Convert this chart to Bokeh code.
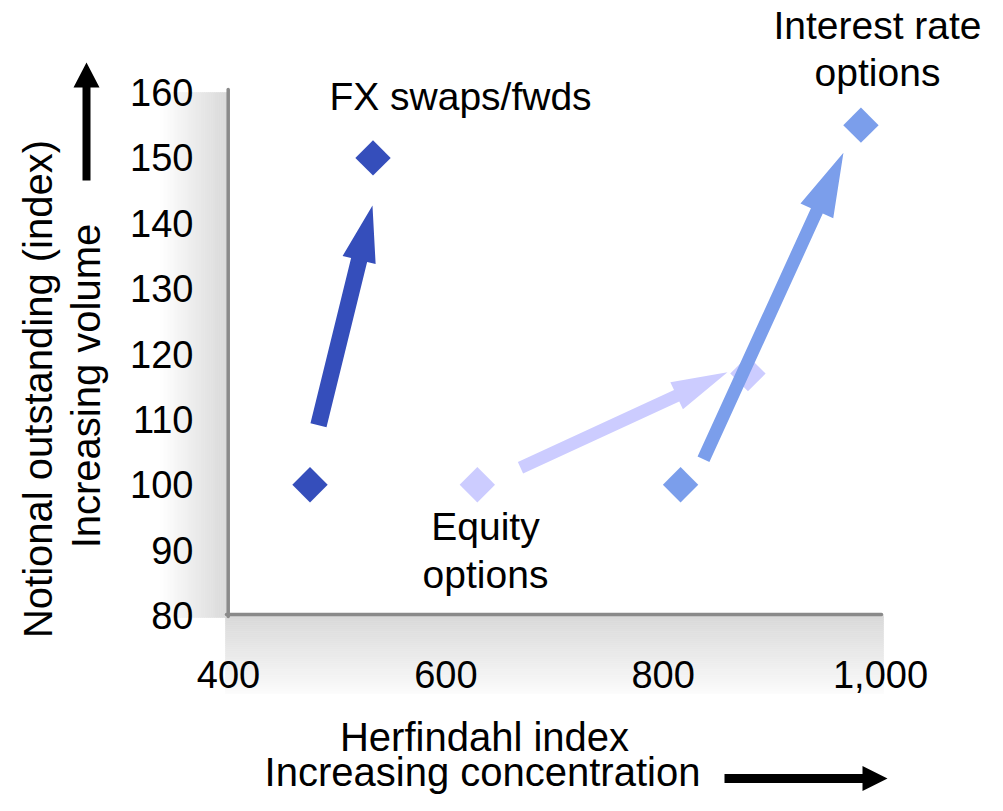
import numpy as np
from bokeh.plotting import figure
from bokeh.models import FixedTicker, NumeralTickFormatter, Range1d
from bokeh.core.properties import value
from bokeh.embed import file_html
from bokeh.resources import INLINE

# ---------------- data ----------------
series = ["FX swaps/fwds", "Equity options", "Interest rate options"]
herf_start = [475, 629, 816]
herf_end = [533, 878, 982]
vol_start = [100, 100, 100]
vol_end = [150, 117, 155]
# arrow tails / tips (data units)
arrow_x0 = [482.8, 668.7, 837.1]
arrow_y0 = [109.1, 102.6, 103.9]
arrow_x1 = [532.5, 859.2, 965.9]
arrow_y1 = [142.7, 117.2, 150.8]
x_ticks = [400, 600, 800, 1000]
y_ticks = [80, 90, 100, 110, 120, 130, 140, 150, 160]

# ---------------- styles ----------------
colors = ["#354EBB", "#CCCCFF", "#7B9EEB"]
shaft_w = [16.5, 12.5, 13]
head_len = [56, 56, 64]
head_wid = [34, 30, 36]
FONT = "Liberation Sans"

# ---------------- layout mapping (canvas px <-> data) ----------------
W, H = 987, 795
SX = 652 / 600.0
SY = 523 / 80.0

def X(px):
    return 400 + (px - 228) / SX

def Y(py):
    return 80 + (615 - py) / SY

def PX(x):
    return 228 + (x - 400) * SX

def PY(y):
    return 615 - (y - 80) * SY

p = figure(width=W, height=H, output_backend="svg", toolbar_location=None,
           x_range=Range1d(X(0), X(W)), y_range=Range1d(Y(H), Y(0)),
           min_border=0, background_fill_color="white", border_fill_color="white")
p.outline_line_color = None
p.grid.visible = False

# ---------------- shading (wall + floor) ----------------
n = 34
lx = np.linspace(160, 228, n + 1)
wall_cols = []
for i in range(n):
    t = (i + 0.5) / n
    g = int(round(255 - t * (255 - 216)))
    wall_cols.append("#%02x%02x%02x" % (g, g, g))
p.quad(left=[X(a) for a in lx[:-1]], right=[X(a) for a in lx[1:]],
       top=Y(92), bottom=Y(617), fill_color=wall_cols, line_color=wall_cols, line_width=0.6)

m = 39
fy = np.linspace(615, 693, m + 1)
floor_cols = []
for i in range(m):
    t = (i + 0.5) / m
    g = int(round(216 + t * (251 - 216)))
    floor_cols.append("#%02x%02x%02x" % (g, g, g))
p.quad(left=X(225), right=X(883), top=[Y(a) for a in fy[:-1]], bottom=[Y(a) for a in fy[1:]],
       fill_color=floor_cols, line_color=floor_cols, line_width=0.6)

# axis lines
p.line(x=[X(227.7), X(227.7)], y=[Y(89), Y(616)], line_color="#8a8a8a", line_width=3.5, line_cap="round")
p.line(x=[X(226), X(881)], y=[Y(614), Y(614)], line_color="#8a8a8a", line_width=3.5, line_cap="round")

# ---------------- arrows ----------------
def arrow_poly(tx, ty, hx, hy, w, L, Wd):
    d = np.array([hx - tx, hy - ty], dtype=float)
    d /= np.hypot(*d)
    nrm = np.array([-d[1], d[0]])
    t = np.array([tx, ty], dtype=float)
    h = np.array([hx, hy], dtype=float)
    b = h - L * d
    pts = [t + nrm * w / 2, b + nrm * w / 2, b + nrm * Wd / 2, h,
           b - nrm * Wd / 2, b - nrm * w / 2, t - nrm * w / 2]
    return [X(q[0]) for q in pts], [Y(q[1]) for q in pts]

for i in range(len(series)):
    p.scatter(x=[herf_start[i], herf_end[i]], y=[vol_start[i], vol_end[i]], marker="square",
              size=25, angle=np.pi / 4, fill_color=colors[i], line_color=None)
    xs, ys = arrow_poly(PX(arrow_x0[i]), PY(arrow_y0[i]), PX(arrow_x1[i]), PY(arrow_y1[i]),
                        shaft_w[i], head_len[i], head_wid[i])
    p.patch(x=xs, y=ys, fill_color=colors[i], line_color=None)

# black direction arrows
xs, ys = arrow_poly(86, 180, 86, 62, 8, 25, 26)
p.patch(x=xs, y=ys, fill_color="black", line_color=None)
xs, ys = arrow_poly(724, 778, 887, 778, 9, 25, 25)
p.patch(x=xs, y=ys, fill_color="black", line_color=None)

# ---------------- texts ----------------
ann_x = [X(460), X(877), X(877), X(485), X(485)]
ann_y = [Y(96), Y(25), Y(72), Y(526), Y(574)]
ann_t = ["FX swaps/fwds", "Interest rate", "options", "Equity", "options"]
p.text(x=ann_x, y=ann_y, text=ann_t, text_font=value(FONT), text_font_size="39px",
       text_align="center", text_baseline="middle", text_color="black")

p.text(x=[X(484), X(482)], y=[Y(736), Y(771)], text=["Herfindahl index", "Increasing concentration"],
       text_font=value(FONT), text_font_size="40px", text_align="center",
       text_baseline="middle", text_color="black")
p.text(x=[X(37), X(85)], y=[Y(388.5), Y(385.5)],
       text=["Notional outstanding (index)", "Increasing volume"], angle=np.pi / 2,
       text_font=value(FONT), text_font_size="40px", text_align="center",
       text_baseline="middle", text_color="black")

# ---------------- axes (tick labels) ----------------
for ax in (p.xaxis, p.yaxis):
    ax.axis_line_color = None
    ax.major_tick_in = 0
    ax.major_tick_out = 0
    ax.minor_tick_in = 0
    ax.minor_tick_out = 0
    ax.major_label_text_font = FONT
    ax.major_label_text_font_size = "38px"
    ax.major_label_text_color = "black"

p.yaxis.ticker = FixedTicker(ticks=y_ticks)
p.yaxis.fixed_location = X(195)
p.yaxis.major_label_standoff = 2

p.xaxis.ticker = FixedTicker(ticks=x_ticks)
p.xaxis.formatter = NumeralTickFormatter(format="0,0")
p.xaxis.fixed_location = 80
p.xaxis.major_label_standoff = 45

open("out.html", "w").write(file_html(p, INLINE))
